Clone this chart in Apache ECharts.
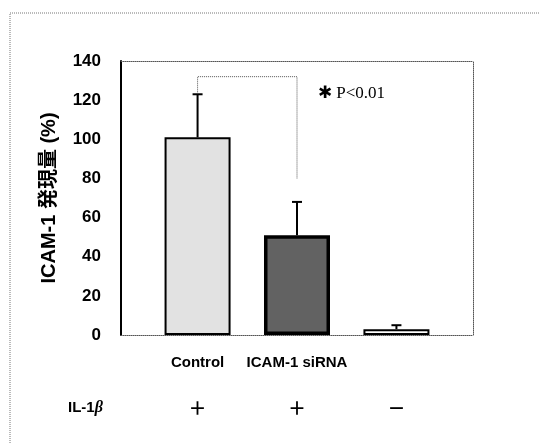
<!DOCTYPE html>
<html>
<head>
<meta charset="utf-8">
<script src="https://cdn.jsdelivr.net/npm/echarts@6/dist/echarts.min.js"></script>
<style>
  html, body { margin: 0; padding: 0; background: #fff; }
  #chart { width: 539px; height: 443px; }
</style>
</head>
<body>
<div id="chart"></div>
<script>
// 数据
const categories = ['Control', 'ICAM-1 siRNA', '']
const il1b = ['＋', '＋', '－']
const positions = [1, 2, 3]
const means = [101, 51, 3]
const errors = [22, 17, 2]
const yTicks = [0, 20, 40, 60, 80, 100, 120, 140]
// 有意差の括弧
const bracketX = [1, 1, 2, 2]
const bracketY = [124, 132, 132, 80]
const sigText = '✱ P<0.01'

// 棒のスタイル（データとは別）
const barColors = ['#e2e2e2', '#626262', '#ffffff']
const barBorders = [2, 3.5, 2]

const font = '"Liberation Sans", Arial, "Noto Sans CJK JP", sans-serif'
const dotted = { color: '#555', type: 'dotted', width: 1 }

const myChart = echarts.init(document.querySelector('#chart'))

const option = {
  animation: false,
  backgroundColor: '#fff',
  grid: { left: 121, top: 61, right: 66, bottom: 108 },
  xAxis: [
    {
      type: 'value',
      position: 'bottom',
      min: 0.23,
      max: 3.77,
      splitLine: { show: false },
      axisLine: { onZero: false, lineStyle: dotted },
      axisTick: { show: false },
      axisLabel: {
        customValues: positions,
        margin: 20,
        color: '#000',
        fontFamily: font,
        fontWeight: 'bold',
        fontSize: 15,
        formatter: v => categories[Math.round(v) - 1] || '',
      },
    },
    {
      type: 'value',
      position: 'top',
      min: 0.23,
      max: 3.77,
      splitLine: { show: false },
      axisLine: { onZero: false, lineStyle: dotted },
      axisTick: { show: false },
      axisLabel: { show: false },
    },
    {
      type: 'value',
      position: 'bottom',
      min: 0.23,
      max: 3.77,
      splitLine: { show: false },
      axisLine: { onZero: false, show: false },
      axisTick: { show: false },
      axisLabel: {
        customValues: positions,
        margin: 64,
        color: '#000',
        fontFamily: '"Noto Sans CJK JP", sans-serif',
        fontWeight: 'bold',
        fontSize: 18,
        formatter: v => il1b[Math.round(v) - 1] || '',
      },
    },
  ],
  yAxis: [
    {
      type: 'value',
      min: 0,
      max: 140,
      interval: 20,
      name: 'ICAM-1 発現量 (%)',
      nameLocation: 'middle',
      nameGap: 62,
      nameTextStyle: { color: '#000', fontFamily: font, fontWeight: 'bold', fontSize: 20 },
      splitLine: { show: false },
      axisLine: { show: true, onZero: false, lineStyle: { color: '#000', width: 2 } },
      axisTick: { show: false },
      axisLabel: {
        margin: 20,
        color: '#000',
        fontFamily: font,
        fontWeight: 'bold',
        fontSize: 17,
        formatter: v => (yTicks.includes(v) ? String(v) : ''),
      },
    },
    {
      type: 'value',
      position: 'right',
      min: 0,
      max: 140,
      interval: 20,
      splitLine: { show: false },
      axisLine: { show: true, onZero: false, lineStyle: dotted },
      axisTick: { show: false },
      axisLabel: { show: false },
    },
  ],
  series: [
    {
      type: 'bar',
      barWidth: 66,
      data: positions.map((x, i) => ({
        value: [x, means[i]],
        itemStyle: { color: barColors[i], borderColor: '#000', borderWidth: barBorders[i] },
      })),
      z: 2,
    },
    {
      // エラーバー（上方向のみ）
      type: 'custom',
      data: positions.map((x, i) => [x, means[i], means[i] + errors[i]]),
      renderItem(params, api) {
        const base = api.coord([api.value(0), api.value(1)])
        const top = api.coord([api.value(0), api.value(2)])
        const style = { stroke: '#000', lineWidth: 2 }
        return {
          type: 'group',
          children: [
            { type: 'line', shape: { x1: base[0], y1: base[1], x2: top[0], y2: top[1] }, style },
            { type: 'line', shape: { x1: top[0] - 5, y1: top[1], x2: top[0] + 5, y2: top[1] }, style },
          ],
        }
      },
      z: 3,
    },
    {
      type: 'line',
      data: bracketX.map((x, i) => [x, bracketY[i]]),
      symbol: 'none',
      lineStyle: dotted,
      z: 1,
    },
  ],
  graphic: [
    {
      type: 'rect',
      shape: { x: 10, y: 13, width: 560, height: 460 },
      style: { fill: 'none', stroke: '#777', lineWidth: 1, lineDash: [1, 1] },
      silent: true,
    },
    {
      type: 'text',
      left: 318,
      top: 85,
      style: { text: sigText, fill: '#000', font: '17px "Liberation Serif", serif' },
    },
    {
      type: 'text',
      left: 68,
      top: 400,
      style: {
        text: 'IL-1{b|β}',
        fill: '#000',
        font: 'bold 15px "Liberation Sans", Arial, sans-serif',
        rich: { b: { fontStyle: 'italic', fontWeight: 'bold', fontSize: 16, fontFamily: '"Liberation Serif", serif' } },
      },
    },
  ],
}
myChart.setOption(option)
</script>
</body>
</html>
